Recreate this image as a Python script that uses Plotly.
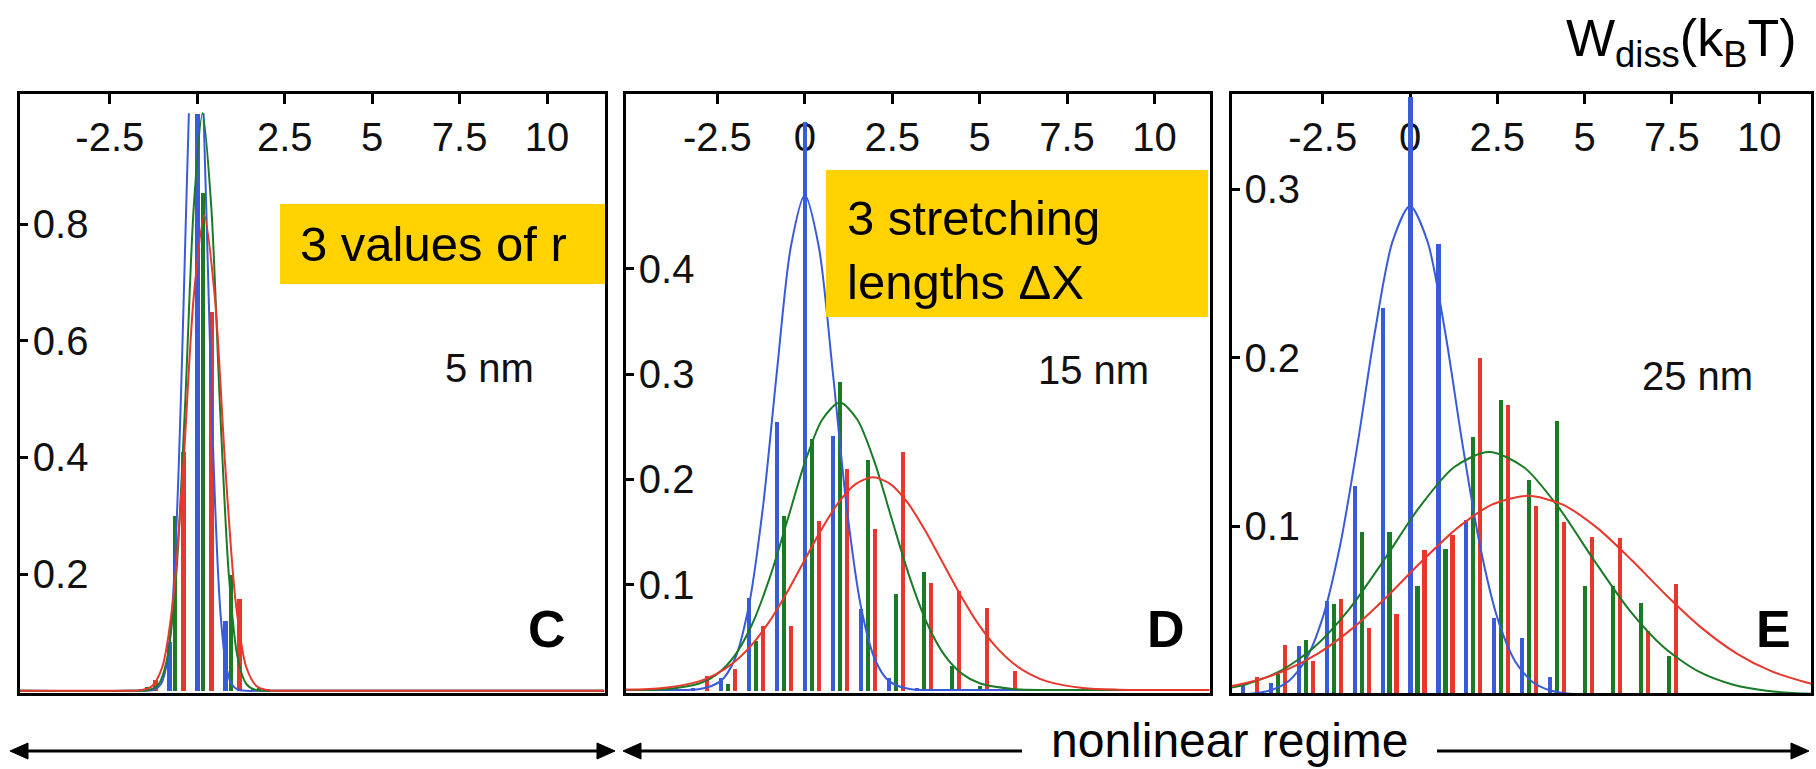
import plotly.graph_objects as go

W, H = 1816, 769

# ---------------- data ----------------
# Panel C : 5 nm
c_blue_bar_x = [-1.6, -0.8, 0.0, 0.8, 1.6]
c_blue_bar_y = [0.004, 0.085, 0.99, 0.12, 0.004]
c_green_bar_x = [-1.45, -0.65, 0.15, 0.95, 1.75]
c_green_bar_y = [0.008, 0.30, 0.855, 0.20, 0.006]
c_red_bar_x = [-1.2, -0.4, 0.4, 1.2, 2.0]
c_red_bar_y = [0.02, 0.41, 0.65, 0.158, 0.003]

c_blue_fit_x = [-5.07, -2.0, -1.23, -1.03, -0.88, -0.73, -0.63, -0.53, -0.43, -0.33, -0.24, None,
                0.18, 0.27, 0.37, 0.47, 0.57, 0.67, 0.82, 0.97, 1.17, 2.0, 11.64]
c_blue_fit_y = [0, 0, 0.0016, 0.0123, 0.044, 0.128, 0.232, 0.384, 0.58, 0.80, 0.99, None,
                0.99, 0.80, 0.58, 0.384, 0.232, 0.128, 0.044, 0.0123, 0.0016, 0, 0]
c_green_fit_x = [-5.07, -2.0, -1.35, -1.1, -0.85, -0.6, -0.35, -0.1, 0.15, 0.4, 0.65, 0.9, 1.15, 1.4, 1.65, 2.5, 11.64]
c_green_fit_y = [0, 0, 0.0017, 0.0118, 0.058, 0.201, 0.487, 0.83, 0.99, 0.83, 0.487, 0.201, 0.058, 0.0118, 0.0017, 0, 0]
c_red_fit_x = [-5.07, -2.2, -1.6, -1.3, -1.0, -0.7, -0.4, -0.1, 0.2, 0.5, 0.8, 1.1, 1.4, 1.7, 2.0, 2.6, 11.64]
c_red_fit_y = [0, 0, 0.001, 0.0075, 0.0406, 0.151, 0.385, 0.676, 0.815, 0.676, 0.385, 0.151, 0.0406, 0.0075, 0.001, 0, 0]

# Panel D : 15 nm
d_blue_bar_x = [-3.2, -2.4, -1.6, -0.8, 0.0, 0.8, 1.6, 2.4, 3.2]
d_blue_bar_y = [0.002, 0.012, 0.088, 0.255, 0.54, 0.242, 0.077, 0.012, 0.002]
d_green_bar_x = [-2.2, -1.4, -0.6, 0.2, 1.0, 1.8, 2.6, 3.4, 4.2, 5.0]
d_green_bar_y = [0.006, 0.047, 0.166, 0.239, 0.293, 0.219, 0.092, 0.113, 0.023, 0.004]
d_red_bar_x = [-2.8, -2.0, -1.2, -0.4, 0.4, 1.2, 2.0, 2.8, 3.6, 4.4, 5.2, 6.0]
d_red_bar_y = [0.014, 0.020, 0.061, 0.061, 0.161, 0.21, 0.153, 0.227, 0.102, 0.095, 0.078, 0.019]

d_blue_fit_x = [-5.12, -4.0, -3.0, -2.4, -2.0, -1.6, -1.2, -0.8, -0.4, 0, 0.4, 0.8, 1.2, 1.6, 2.0, 2.4, 3.0, 4.0, 11.57]
d_blue_fit_y = [0, 0, 0.0009, 0.0087, 0.0295, 0.080, 0.173, 0.302, 0.421, 0.47, 0.421, 0.302, 0.173, 0.080, 0.0295, 0.0087, 0.0009, 0, 0]
d_green_fit_x = [-5.12, -4.0, -3.0, -2.5, -2.0, -1.5, -1.0, -0.5, 0, 0.5, 1.0, 1.5, 2.0, 2.5, 3.0, 3.5, 4.0, 4.5, 5.0, 6.0, 7.0, 11.57]
d_green_fit_y = [0.0002, 0.0008, 0.0064, 0.0154, 0.033, 0.063, 0.107, 0.161, 0.216, 0.257, 0.273, 0.257, 0.216, 0.161, 0.107, 0.063, 0.033, 0.0154, 0.0064, 0.0008, 0.0001, 0]
d_red_fit_x = [-5.12, -4.05, -3.05, -2.55, -2.05, -1.55, -1.05, -0.55, -0.05, 0.45, 0.95, 1.45, 1.95, 2.45, 2.95, 3.45, 3.95, 4.45, 4.95, 5.45, 5.95, 6.45, 6.95, 7.95, 8.95, 11.57]
d_red_fit_y = [0.0003, 0.002, 0.008, 0.0149, 0.0257, 0.0417, 0.0633, 0.0903, 0.1206, 0.151, 0.1775, 0.1956, 0.202, 0.1956, 0.1775, 0.151, 0.1206, 0.0903, 0.0633, 0.0417, 0.0257, 0.0149, 0.008, 0.002, 0.0004, 0]

# Panel E : 25 nm
e_blue_bar_x = [-4.8, -4.0, -3.2, -2.4, -1.6, -0.8, 0.0, 0.8, 1.6, 2.4, 3.2, 4.0]
e_blue_bar_y = [0.006, 0.0075, 0.029, 0.056, 0.124, 0.23, 0.355, 0.268, 0.104, 0.046, 0.034, 0.011]
e_green_bar_x = [-3.8, -3.0, -2.2, -1.4, -0.6, 0.2, 1.0, 1.8, 2.6, 3.4, 4.2, 5.0, 5.8, 6.6, 7.4]
e_green_bar_y = [0.0125, 0.033, 0.054, 0.097, 0.097, 0.065, 0.087, 0.153, 0.175, 0.128, 0.163, 0.065, 0.065, 0.055, 0.023]
e_red_bar_x = [-4.4, -3.6, -2.8, -2.0, -1.2, -0.4, 0.4, 1.2, 2.0, 2.8, 3.6, 4.4, 5.2, 6.0, 6.8, 7.6]
e_red_bar_y = [0.0105, 0.030, 0.020, 0.057, 0.040, 0.048, 0.086, 0.095, 0.20, 0.172, 0.112, 0.103, 0.094, 0.093, 0.038, 0.066]

e_blue_fit_x = [-5.11, -4.5, -4.0, -3.5, -3.0, -2.5, -2.0, -1.5, -1.0, -0.5, 0, 0.5, 1.0, 1.5, 2.0, 2.5, 3.0, 3.5, 4.0, 4.5, 5.0, 6.0, 11.49]
e_blue_fit_y = [0.0001, 0.0007, 0.0026, 0.0077, 0.0202, 0.0457, 0.0888, 0.149, 0.216, 0.269, 0.29, 0.269, 0.216, 0.149, 0.0888, 0.0457, 0.0202, 0.0077, 0.0026, 0.0007, 0.0002, 0, 0]
e_green_fit_x = [-5.11, -4.74, -3.74, -2.74, -1.74, -0.74, 0.26, 1.26, 2.26, 3.26, 4.26, 5.26, 6.26, 7.26, 8.26, 9.26, 10.26, 11.49]
e_green_fit_y = [0.0042, 0.0059, 0.0138, 0.0283, 0.0508, 0.0801, 0.111, 0.135, 0.144, 0.135, 0.111, 0.0801, 0.0508, 0.0283, 0.0138, 0.0059, 0.0022, 0.0005]
e_red_fit_x = [-5.11, -4.64, -3.64, -2.64, -1.64, -0.64, 0.36, 1.36, 2.36, 3.36, 4.36, 5.36, 6.36, 7.36, 8.36, 9.36, 10.36, 11.36, 11.49]
e_red_fit_y = [0.0051, 0.0072, 0.0138, 0.0244, 0.0395, 0.0586, 0.0796, 0.099, 0.1129, 0.118, 0.1129, 0.099, 0.0796, 0.0586, 0.0395, 0.0244, 0.0138, 0.0072, 0.0065]

x_tickvals_c = [-2.5, 2.5, 5, 7.5, 10]          # the "0" label of panel C is hidden under the bars
x_ticktext_c = ["-2.5", "2.5", "5", "7.5", "10"]
x_tickvals = [-2.5, 0, 2.5, 5, 7.5, 10]
x_ticktext = ["-2.5", "0", "2.5", "5", "7.5", "10"]
c_ytickvals = [0.2, 0.4, 0.6, 0.8]
d_ytickvals = [0.1, 0.2, 0.3, 0.4]
e_ytickvals = [0.1, 0.2, 0.3]
panel_letters = ["C", "D", "E"]
panel_lengths = ["5 nm", "15 nm", "25 nm"]

BLUE = "#3a5bd9"
GREEN = "#1a7a26"
RED = "#e8372c"
FONT = "Arial, Liberation Sans, Helvetica, sans-serif"
BAR_W = 0.12

def px(v):
    return v / W

def py(v):
    return 1 - v / H

fig = go.Figure()

panels = [
    ("x", "y", [(c_blue_bar_x, c_blue_bar_y, BLUE), (c_green_bar_x, c_green_bar_y, GREEN), (c_red_bar_x, c_red_bar_y, RED)],
     [(c_blue_fit_x, c_blue_fit_y, BLUE), (c_green_fit_x, c_green_fit_y, GREEN), (c_red_fit_x, c_red_fit_y, RED)]),
    ("x2", "y2", [(d_blue_bar_x, d_blue_bar_y, BLUE), (d_green_bar_x, d_green_bar_y, GREEN), (d_red_bar_x, d_red_bar_y, RED)],
     [(d_blue_fit_x, d_blue_fit_y, BLUE), (d_green_fit_x, d_green_fit_y, GREEN), (d_red_fit_x, d_red_fit_y, RED)]),
    ("x3", "y3", [(e_blue_bar_x, e_blue_bar_y, BLUE), (e_green_bar_x, e_green_bar_y, GREEN), (e_red_bar_x, e_red_bar_y, RED)],
     [(e_blue_fit_x, e_blue_fit_y, BLUE), (e_green_fit_x, e_green_fit_y, GREEN), (e_red_fit_x, e_red_fit_y, RED)]),
]

for xa, ya, bars, fits in panels:
    for bx, by, col in bars:
        fig.add_trace(go.Bar(x=bx, y=by, width=BAR_W, marker=dict(color=col, line=dict(width=0)),
                             xaxis=xa, yaxis=ya, showlegend=False, hoverinfo="skip"))
    for fx, fy, col in fits:
        fig.add_trace(go.Scatter(x=fx, y=fy, mode="lines", line=dict(color=col, width=2, shape="spline", smoothing=0.8),
                                 xaxis=xa, yaxis=ya, showlegend=False, hoverinfo="skip", connectgaps=False))

# panel geometry (pixels)
panel_px = [(19.8, 604.5), (625.8, 1209.5), (1231.5, 1811.2)]
top_px, bot_px = 93.5, 693.0
x_ranges = [[-5.074, 11.643], [-5.12, 11.574], [-5.113, 11.49]]
y_ranges = [[-0.0039, 1.0239], [-0.0028, 0.5666], [0.0010, 0.3568]]
y_ticks = [c_ytickvals, d_ytickvals, e_ytickvals]
x_vals = [x_tickvals_c, x_tickvals, x_tickvals]
x_texts = [x_ticktext_c, x_ticktext, x_ticktext]

axis_common = dict(showline=True, linewidth=3, linecolor="black", mirror=True, showgrid=False,
                   zeroline=False, ticks="inside", tickcolor="black", tickwidth=3,
                   ticklabelposition="inside", layer="below traces",
                   tickfont=dict(family=FONT, size=40, color="#111111"))

layout_axes = {}
for i in range(3):
    sx = "" if i == 0 else str(i + 1)
    x0, x1 = panel_px[i]
    xa = dict(axis_common, domain=[px(x0), px(x1)], range=x_ranges[i],
              anchor="y" + sx, side="top", ticklen=10,
              tickvals=x_vals[i], ticktext=x_texts[i], ticklabelstandoff=24)
    if i == 0:
        xa["minor"] = dict(tickvals=[0], ticks="inside", ticklen=10, tickwidth=3, tickcolor="black", showgrid=False)
    layout_axes["xaxis" + sx] = xa
    layout_axes["yaxis" + sx] = dict(axis_common, domain=[py(bot_px), py(top_px)], range=y_ranges[i],
                                     anchor="x" + sx, side="left", ticklen=8,
                                     tickvals=y_ticks[i], ticktext=[str(v) for v in y_ticks[i]],
                                     ticklabelstandoff=10)

annotations = []
shapes = []

# yellow boxes
shapes.append(dict(type="rect", xref="paper", yref="paper", x0=px(280), x1=px(605), y0=py(284), y1=py(204),
                   fillcolor="#FFD200", line=dict(width=0), layer="above"))
shapes.append(dict(type="rect", xref="paper", yref="paper", x0=px(826), x1=px(1208), y0=py(317), y1=py(170),
                   fillcolor="#FFD200", line=dict(width=0), layer="above"))
annotations.append(dict(text="3 values of r", xref="paper", yref="paper", x=px(298), y=py(244),
                        xanchor="left", yanchor="middle", showarrow=False,
                        font=dict(family=FONT, size=49, color="black")))
annotations.append(dict(text="3 stretching<br>lengths \u0394X", xref="paper", yref="paper", x=px(845), y=py(250),
                        xanchor="left", yanchor="middle", showarrow=False, align="left",
                        font=dict(family=FONT, size=49, color="black")))

# stretching lengths and panel letters
len_pos = [(489, 368), (1093, 370), (1697, 376)]
let_pos = [(547, 629), (1166, 629), (1773, 629)]
for i in range(3):
    annotations.append(dict(text=panel_lengths[i], xref="paper", yref="paper", x=px(len_pos[i][0]), y=py(len_pos[i][1]),
                            xanchor="center", yanchor="middle", showarrow=False,
                            font=dict(family=FONT, size=40, color="#111111")))
    annotations.append(dict(text="<b>" + panel_letters[i] + "</b>", xref="paper", yref="paper",
                            x=px(let_pos[i][0]), y=py(let_pos[i][1]),
                            xanchor="center", yanchor="middle", showarrow=False,
                            font=dict(family=FONT, size=52, color="black")))

# axis title top right
annotations.append(dict(text="W<sub>diss</sub>(k<sub>B</sub>T)", xref="paper", yref="paper",
                        x=px(1799), y=py(42), xanchor="right", yanchor="middle", showarrow=False,
                        font=dict(family=FONT, size=52, color="black")))

# bottom double arrows (drawn as shapes) and label
AY = 751
HEAD_L, HEAD_H = 18, 8

def arrow_head(tip_x, direction):
    base_x = tip_x - direction * HEAD_L
    return dict(type="path", xref="paper", yref="paper",
                path="M {:.5f},{:.5f} L {:.5f},{:.5f} L {:.5f},{:.5f} Z".format(
                    px(tip_x), py(AY), px(base_x), py(AY - HEAD_H), px(base_x), py(AY + HEAD_H)),
                fillcolor="black", line=dict(color="black", width=1), layer="above")

def arrow_line(xa, xb):
    return dict(type="line", xref="paper", yref="paper", x0=px(xa), x1=px(xb), y0=py(AY), y1=py(AY),
                line=dict(color="black", width=3), layer="above")

shapes.append(arrow_line(20, 605))
shapes.append(arrow_head(10, -1))
shapes.append(arrow_head(615, 1))
shapes.append(arrow_line(633, 1022))
shapes.append(arrow_head(623, -1))
shapes.append(arrow_line(1437, 1799))
shapes.append(arrow_head(1809, 1))

annotations.append(dict(text="nonlinear regime", xref="paper", yref="paper", x=px(1230), y=py(740),
                        xanchor="center", yanchor="middle", showarrow=False,
                        font=dict(family=FONT, size=48, color="black")))

fig.update_layout(width=W, height=H, margin=dict(l=0, r=0, t=0, b=0),
                  paper_bgcolor="white", plot_bgcolor="white", barmode="overlay",
                  bargap=0, showlegend=False, annotations=annotations, shapes=shapes,
                  **layout_axes)

fig.write_html("out.html", config={"displayModeBar": False})
